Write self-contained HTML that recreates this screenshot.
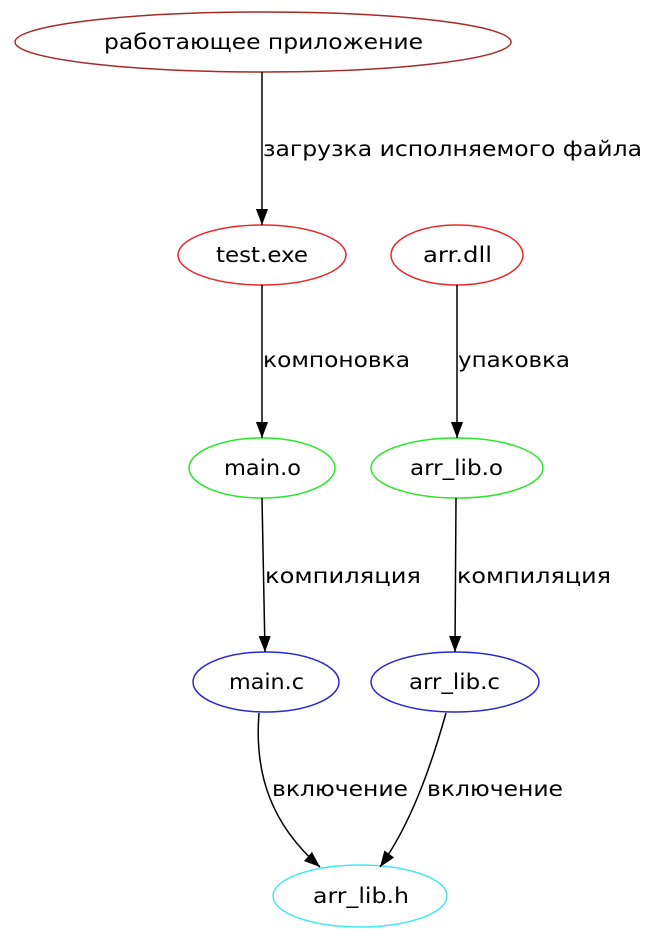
<!DOCTYPE html>
<html><head><meta charset="utf-8"><style>
html,body{margin:0;padding:0;background:#fff;}
svg text{font-family:"DejaVu Sans","Liberation Sans",sans-serif;font-size:21px;fill:#000;}
</style></head><body>
<svg width="672" height="941" viewBox="0 0 672 941" xmlns="http://www.w3.org/2000/svg">
<defs>
<marker id="b" viewBox="0 0 10 10" markerWidth="16" markerHeight="16" refX="10" refY="5" orient="auto" markerUnits="userSpaceOnUse"><path d="M0,1.2 L10,5 L0,8.8 z" fill="#000"/></marker></defs>
<g fill="none" stroke-width="1.5">
<ellipse cx="263" cy="42" rx="248" ry="30" stroke="#a52a2a"/>
<ellipse cx="262" cy="255" rx="84" ry="30" stroke="#e8282a"/>
<ellipse cx="457" cy="255" rx="66" ry="30" stroke="#e8282a"/>
<ellipse cx="262" cy="468" rx="73" ry="30" stroke="#28e828"/>
<ellipse cx="457" cy="468" rx="86" ry="30" stroke="#28e828"/>
<ellipse cx="266" cy="682" rx="73" ry="30" stroke="#2828d0"/>
<ellipse cx="455" cy="682" rx="84" ry="30" stroke="#2828d0"/>
<ellipse cx="360" cy="896" rx="87" ry="31" stroke="#40e8f0"/>
</g>
<g fill="none" stroke="#000" stroke-width="1.5">
<path d="M262,72 L262,225" marker-end="url(#b)"/>
<path d="M262,285 L262,438" marker-end="url(#b)"/>
<path d="M457,285 L457,438" marker-end="url(#b)"/>
<path d="M262,498 L265,652" marker-end="url(#b)"/>
<path d="M456,498 L455,652" marker-end="url(#b)"/>
<path d="M259,713 C254,775 272,825 320,867" marker-end="url(#b)"/>
<path d="M446,713 C430,770 410,825 380,867" marker-end="url(#b)"/>
</g>
<g>
<text x="104" y="49" textLength="319" lengthAdjust="spacingAndGlyphs">работающее приложение</text>
<text x="216" y="262" textLength="92" lengthAdjust="spacingAndGlyphs">test.exe</text>
<text x="423" y="262" textLength="69" lengthAdjust="spacingAndGlyphs">arr.dll</text>
<text x="224" y="475" textLength="77" lengthAdjust="spacingAndGlyphs">main.o</text>
<text x="410" y="475" textLength="93" lengthAdjust="spacingAndGlyphs">arr_lib.o</text>
<text x="229" y="689" textLength="75" lengthAdjust="spacingAndGlyphs">main.c</text>
<text x="409" y="689" textLength="91" lengthAdjust="spacingAndGlyphs">arr_lib.c</text>
<text x="313" y="903" textLength="96" lengthAdjust="spacingAndGlyphs">arr_lib.h</text>
<text x="263" y="156" textLength="379" lengthAdjust="spacingAndGlyphs">загрузка исполняемого файла</text>
<text x="263" y="367" textLength="147" lengthAdjust="spacingAndGlyphs">компоновка</text>
<text x="458" y="367" textLength="112" lengthAdjust="spacingAndGlyphs">упаковка</text>
<text x="265" y="583" textLength="156" lengthAdjust="spacingAndGlyphs">компиляция</text>
<text x="457" y="583" textLength="154" lengthAdjust="spacingAndGlyphs">компиляция</text>
<text x="272" y="796" textLength="136" lengthAdjust="spacingAndGlyphs">включение</text>
<text x="427" y="796" textLength="136" lengthAdjust="spacingAndGlyphs">включение</text>
</g>
</svg>
</body></html>
